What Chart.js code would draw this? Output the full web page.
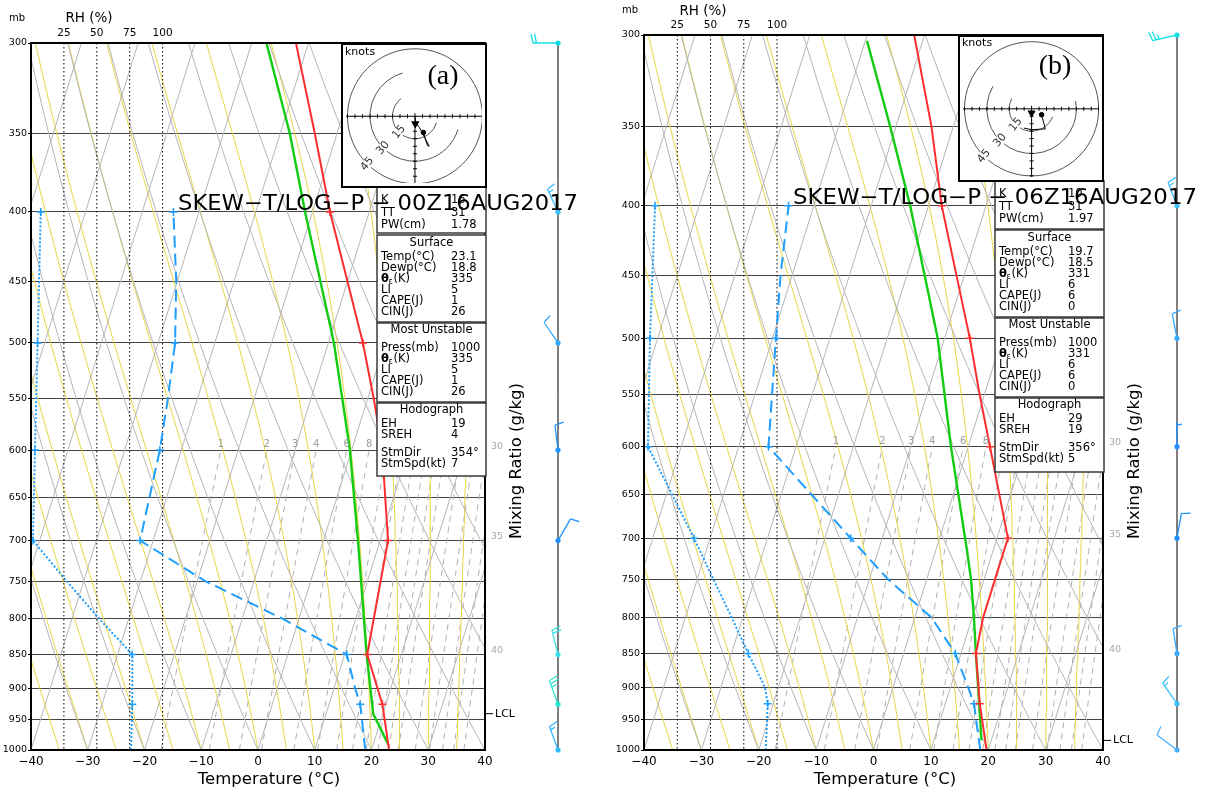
<!DOCTYPE html>
<html>
<head>
<meta charset="utf-8">
<script src="https://cdn.jsdelivr.net/npm/chart.js@4.4.0/dist/chart.umd.min.js"></script>
<style>
html, body { margin: 0; padding: 0; background: #fff; }
#wrap { position: relative; width: 1206px; height: 792px; overflow: hidden; background: #fff; }
canvas { position: absolute; }
</style>
</head>
<body>
<div id="wrap">
  <canvas id="skewA" width="603" height="792" style="left:0;top:0;width:603px;height:792px"></canvas>
  <canvas id="skewB" width="603" height="792" style="left:603px;top:0;width:603px;height:792px"></canvas>
  <canvas id="hodoA" width="146" height="145" style="left:341px;top:43px;width:146px;height:145px"></canvas>
  <canvas id="hodoB" width="146" height="147" style="left:958px;top:35px;width:146px;height:147px"></canvas>
</div>
<script>
// skew of the isotherms, deg C per unit of ln(1000/p)
var SKEW = 32.3;

var PLEVELS = [300, 350, 400, 450, 500, 550, 600, 650, 700, 750, 800, 850, 900, 950, 1000];
var RH_TICKS = [25, 50, 75, 100];
var MARK_P = [925, 850, 700, 600, 500, 400];
var MIX_W = [1, 2, 3, 4, 6, 8, 10, 12, 14, 16, 18, 20, 24, 28, 32, 36, 40];
var MIX_LABELS = [1, 2, 3, 4, 6, 8];
var MOIST_LABELS = ['30', '35', '40'];
var MOIST_LABEL_P = [600, 700, 850];

// ---- (a) 00Z16AUG2017 ----
var TEMP_P_A = [1000, 925, 850, 700, 650, 600, 550, 500, 400, 350, 300];
var TEMP_A = [23.1, 19.4, 14.0, 11.4, 8.5, 5.4, 1.1, -3.9, -16.9, -23.9, -32.2];
var DEWP_P_A = [1000, 925, 900, 850, 800, 750, 700, 600, 550, 500, 450, 400];
var DEWP_A = [18.9, 15.5, 13.7, 10.4, -2.8, -18.6, -32.3, -33.8, -35.2, -37.0, -40.2, -44.5];
var RH_P_A = [1000, 925, 850, 800, 750, 700, 600, 500, 400];
var RH_A = [76, 77, 77, 52, 27, 1.5, 3, 5, 7.4];
var PARCEL_P_A = [990, 940, 850, 700, 600, 500, 400, 350, 300];
var PARCEL_A = [22.6, 18.3, 13.9, 6.1, -0.3, -9.0, -21.3, -28.3, -37.4];
var LCL_A = 940;

// ---- (b) 06Z16AUG2017 ----
var TEMP_P_B = [1000, 925, 850, 800, 750, 700, 600, 550, 500, 400, 350, 300];
var TEMP_B = [19.7, 16.0, 12.6, 11.9, 11.9, 11.9, 3.8, -0.8, -5.6, -17.7, -23.8, -31.8];
var DEWP_P_B = [1000, 925, 900, 850, 800, 750, 700, 600, 550, 500, 450, 400];
var DEWP_B = [18.6, 15.0, 13.1, 9.0, 2.9, -6.8, -15.5, -34.8, -37.0, -39.4, -42.0, -44.4];
var RH_P_B = [1000, 925, 900, 850, 800, 750, 700, 600, 500, 400];
var RH_B = [91.5, 93, 91, 78.4, 65.9, 52.1, 37.6, 3, 4.5, 8.3];
var PARCEL_P_B = [984, 925, 850, 800, 750, 714, 600, 500, 400, 350, 303];
var PARCEL_B = [18.3, 15.9, 12.6, 10.3, 7.7, 5.4, -3.0, -11.2, -23.2, -31.0, -39.7];
var LCL_B = 984;

// winds (deg, kt)
var WIND_P = [300, 400, 500, 600, 700, 850, 925, 1000];
var WDIR_A = [270, 335, 326, 353, 30, 346, 340, 340];
var WSPD_A = [20, 15, 10, 10, 10, 20, 25, 15];
var WDIR_B = [257, 339, 349, 0, 10, 351, 325, 307];
var WSPD_B = [25, 15, 10, 5, 10, 10, 15, 10];

// hodographs (u, v in kt)
var HODO_U_A = [0, 0.5, 3, 9.5, 8.3, 5.6];
var HODO_V_A = [0, -4.5, -7.5, -20, -19.5, -10.8];
var HODO_STORM_A = [0.2, -5];
var HODO_DOT_A = [5.6, -10.8];
var HODO_U_B = [6.7, 9.2, 0, -5];
var HODO_V_B = [-4, -13.5, -14, -13];
var HODO_STORM_B = [0, -2.8];
var HODO_DOT_B = [6.7, -4];
var RINGS = [15, 30, 45];

// index tables
var BOX_HEADS = [null, 'Surface', 'Most Unstable', 'Hodograph'];
var BOX_ROWS = [
  ['K', 'TT', 'PW(cm)'],
  ['Temp(°C)', 'Dewp(°C)', 'θε(K)', 'LI', 'CAPE(J)', 'CIN(J)'],
  ['Press(mb)', 'θε(K)', 'LI', 'CAPE(J)', 'CIN(J)'],
  ['EH', 'SREH', 'StmDir', 'StmSpd(kt)']
];
var INDEX_A = [['16', '31', '1.78'], ['23.1', '18.8', '335', '5', '1', '26'], ['1000', '335', '5', '1', '26'], ['19', '4', '354°', '7']];
var INDEX_B = [['10', '31', '1.97'], ['19.7', '18.5', '331', '6', '6', '0'], ['1000', '331', '6', '6', '0'], ['29', '19', '356°', '5']];

// ---------------- styles / layout ----------------
var FONT = '"DejaVu Sans", sans-serif';
Chart.defaults.font.family = FONT;
var ROW_Y = [[13, 26.5, 38], [8, 22.5, 33.3, 44.3, 55, 65.8, 77], [7.5, 25.3, 36.3, 47, 58, 69], [7.5, 21.5, 32.3, 50.3, 61.5]];
var BARB_COL_A = ['#14dfe6', '#3cc0ff', '#36a8ff', '#1e90ff', '#1e90ff', '#3ee0e6', '#2ee6d4', '#30b8ff'];
var BARB_COL_B = ['#14dfe6', '#3cc0ff', '#36a8ff', '#1e90ff', '#1e90ff', '#3aa8ff', '#3cc0ff', '#4cb0ff'];

var PANEL_A = {
  id: 'skewA', left: 31, top: 43, padRight: 118, barbX: 558,
  title: 'SKEW\u2212T/LOG\u2212P \u2212 00Z16AUG2017', titleX: 178, titleBase: 210, titleW: 400,
  boxL: 377, boxR: 486, boxes: [[187, 233], [235, 322], [323, 402], [403, 476]], labX: 381, valX: 451,
  tempX: 269, mixX: 517, mbX: 17, mbY: 18, rhX: 89, rhY: 18
};
var PANEL_B = {
  id: 'skewB', left: 41, top: 35, padRight: 103, barbX: 574,
  title: 'SKEW\u2212T/LOG\u2212P \u2212 06Z16AUG2017', titleX: 190, titleBase: 204, titleW: 404,
  boxL: 392, boxR: 501, boxes: [[181, 229], [230, 317], [318, 397], [398, 472]], labX: 396, valX: 465,
  tempX: 282, mixX: 532, mbX: 27, mbY: 10, rhX: 100, rhY: 11
};

// ---------------- thermodynamics for the diagram ----------------
function skewX(t, p) { return t + SKEW * Math.log(1000 / p); }
function toPts(ps, ts) { return ps.map(function (p, i) { return { x: skewX(ts[i], p), y: p }; }); }
function tdFromMix(w, p) { var e = w * p / (622 + w); var l = Math.log(e / 6.112); return 243.5 * l / (17.67 - l); }
function lapse(T, p) {
  var es = 6.112 * Math.exp(17.67 * (T - 273.15) / (T - 29.65));
  var r = 0.622 * es / (p - es);
  return (287.04 * T + 2.501e6 * r) / (1005.7 + 2.501e6 * 2.501e6 * r * 0.622 / (287.04 * T * T)) / p;
}
function moistAdiabat(tw) {
  var T = tw + 273.15, p = 1000, pts = [{ x: skewX(tw, 1000), y: 1000 }];
  while (p > 300) {
    var dp = -5;
    var k1 = lapse(T, p), k2 = lapse(T + k1 * dp / 2, p + dp / 2), k3 = lapse(T + k2 * dp / 2, p + dp / 2), k4 = lapse(T + k3 * dp, p + dp);
    T += dp * (k1 + 2 * k2 + 2 * k3 + k4) / 6; p += dp;
    if (p % 20 === 0 || p === 300) pts.push({ x: skewX(T - 273.15, p), y: p });
  }
  return pts;
}
function bg(data, color, dash) {
  return { data: data, showLine: true, borderColor: color, borderWidth: 1, borderDash: dash || [], pointRadius: 0, order: 10 };
}
function background() {
  var sets = [], t, p, pts;
  for (t = -80; t <= 40; t += 10) sets.push(bg([{ x: skewX(t, 1000), y: 1000 }, { x: skewX(t, 300), y: 300 }], '#b6b6b6'));
  for (t = -40; t <= 120; t += 10) {
    pts = [];
    for (p = 1000; p >= 300; p -= 25) pts.push({ x: skewX((t + 273.15) * Math.pow(p / 1000, 0.2857) - 273.15, p), y: p });
    sets.push(bg(pts, '#b6b6b6'));
  }
  for (t = -40; t <= 40; t += 5) sets.push(bg(moistAdiabat(t), '#e6d647'));
  MIX_W.forEach(function (w) {
    var q = [];
    for (var pp = 1000; pp >= 600; pp -= 50) q.push({ x: skewX(tdFromMix(w, pp), pp), y: pp });
    sets.push(bg(q, '#b0b0b0', [6, 5]));
  });
  RH_TICKS.forEach(function (r) {
    sets.push({ data: [{ x: r, y: 300 }, { x: r, y: 1000 }], xAxisID: 'x2', showLine: true, borderColor: '#000', borderWidth: 1, borderDash: [1.5, 2.5], pointRadius: 0, order: 9 });
  });
  return sets;
}
function markRadius(ctx) { return ctx.raw && MARK_P.indexOf(ctx.raw.y) >= 0 ? 4 : 0; }

// ---------------- drawing helpers ----------------
function drawBarb(ctx, x0, y0, dir, spd, color) {
  var r = dir * Math.PI / 180, dx = Math.sin(r), dy = -Math.cos(r), px = -dy, py = dx, L = 25;
  ctx.strokeStyle = color; ctx.fillStyle = color; ctx.lineWidth = 1.3;
  ctx.beginPath();
  ctx.moveTo(x0, y0); ctx.lineTo(x0 + dx * L, y0 + dy * L);
  var full = Math.floor(spd / 10), half = (spd % 10) >= 5, pos = L, i;
  for (i = 0; i < full; i++) {
    var bx = x0 + dx * pos, by = y0 + dy * pos;
    ctx.moveTo(bx, by); ctx.lineTo(bx + px * 9 + dx * 2, by + py * 9 + dy * 2);
    pos -= 3.5;
  }
  if (half) {
    if (full === 0) pos -= 3.5;
    var hx = x0 + dx * pos, hy = y0 + dy * pos;
    ctx.moveTo(hx, hy); ctx.lineTo(hx + px * 5 + dx, hy + py * 5 + dy);
  }
  ctx.stroke();
  ctx.beginPath(); ctx.arc(x0, y0, 2.6, 0, Math.PI * 2); ctx.fill();
}
function drawThetaE(ctx, x, y) {
  ctx.font = 'bold 11.5px ' + FONT;
  ctx.fillText('θ', x, y);
  var w = ctx.measureText('θ').width;
  ctx.font = '8px ' + FONT;
  ctx.fillText('ε', x + w - 0.5, y + 3);
  ctx.font = '11.5px ' + FONT;
  ctx.fillText('(K)', x + w + 4.5, y);
}

function panelPlugin(P, idx, lclP) {
  return {
    id: 'deco' + P.id,
    afterDatasetsDraw: function (chart) {
      var ctx = chart.ctx, a = chart.chartArea, x = chart.scales.x, y = chart.scales.y;
      ctx.save();
      // frame
      ctx.strokeStyle = '#000'; ctx.lineWidth = 2;
      ctx.strokeRect(a.left, a.top, a.right - a.left, a.bottom - a.top);
      // mixing ratio labels
      ctx.fillStyle = '#9c9c9c'; ctx.font = '10px ' + FONT; ctx.textAlign = 'center'; ctx.textBaseline = 'bottom';
      MIX_LABELS.forEach(function (w) {
        ctx.fillText(String(w), x.getPixelForValue(skewX(tdFromMix(w, 600), 600)), y.getPixelForValue(600) - 0.5);
      });
      // moist adiabat labels
      ctx.fillStyle = '#a8a8a8'; ctx.font = '9.5px ' + FONT; ctx.textBaseline = 'middle';
      MOIST_LABELS.forEach(function (s, i) { ctx.fillText(s, a.right + 12, y.getPixelForValue(MOIST_LABEL_P[i]) - 4); });
      // LCL
      var ly = y.getPixelForValue(lclP);
      ctx.strokeStyle = '#000'; ctx.lineWidth = 1;
      ctx.beginPath(); ctx.moveTo(a.right + 1, ly); ctx.lineTo(a.right + 8, ly); ctx.stroke();
      ctx.fillStyle = '#000'; ctx.font = '11px ' + FONT; ctx.textAlign = 'left';
      ctx.fillText('LCL', a.right + 10, ly);
      // tables
      P.boxes.forEach(function (b, k) {
        ctx.fillStyle = '#fff';
        ctx.fillRect(P.boxL, b[0], P.boxR - P.boxL, b[1] - b[0]);
        ctx.strokeStyle = '#3a3a3a'; ctx.lineWidth = 1.5;
        ctx.strokeRect(P.boxL, b[0], P.boxR - P.boxL, b[1] - b[0]);
        ctx.fillStyle = '#000'; ctx.textBaseline = 'middle';
        var off = 0;
        if (BOX_HEADS[k]) {
          ctx.font = '11.5px ' + FONT; ctx.textAlign = 'center';
          ctx.fillText(BOX_HEADS[k], (P.boxL + P.boxR) / 2, b[0] + ROW_Y[k][0]);
          off = 1;
        }
        ctx.textAlign = 'left';
        BOX_ROWS[k].forEach(function (lab, j) {
          var yy = b[0] + ROW_Y[k][j + off];
          ctx.font = '11.5px ' + FONT;
          if (lab === 'θε(K)') drawThetaE(ctx, P.labX, yy); else ctx.fillText(lab, P.labX, yy);
          ctx.font = '11.5px ' + FONT;
          ctx.fillText(idx[k][j], P.valX, yy);
        });
      });
      ctx.restore();
    },
    afterDraw: function (chart) {
      var ctx = chart.ctx, a = chart.chartArea, y = chart.scales.y;
      ctx.save();
      // wind barbs
      ctx.strokeStyle = '#000'; ctx.lineWidth = 1;
      ctx.beginPath(); ctx.moveTo(P.barbX, a.top); ctx.lineTo(P.barbX, a.bottom); ctx.stroke();
      var dirs = P.id === 'skewA' ? WDIR_A : WDIR_B, spds = P.id === 'skewA' ? WSPD_A : WSPD_B, cols = P.id === 'skewA' ? BARB_COL_A : BARB_COL_B;
      WIND_P.forEach(function (p, i) { drawBarb(ctx, P.barbX, y.getPixelForValue(p), dirs[i], spds[i], cols[i]); });
      // axis titles
      ctx.fillStyle = '#000'; ctx.textAlign = 'center'; ctx.textBaseline = 'middle';
      ctx.font = '16.5px ' + FONT;
      ctx.fillText('Temperature (°C)', P.tempX, 780);
      ctx.save(); ctx.translate(P.mixX, 461); ctx.rotate(-Math.PI / 2);
      ctx.fillText('Mixing Ratio (g/kg)', 0, 0); ctx.restore();
      ctx.font = '10px ' + FONT; ctx.fillText('mb', P.mbX, P.mbY);
      ctx.font = '13.5px ' + FONT; ctx.fillText('RH (%)', P.rhX, P.rhY);
      // title
      ctx.font = '21px ' + FONT; ctx.textAlign = 'left'; ctx.textBaseline = 'alphabetic';
      var w = ctx.measureText(P.title).width;
      ctx.translate(P.titleX, P.titleBase); ctx.scale(P.titleW / w, 1);
      ctx.fillText(P.title, 0, 0);
      ctx.restore();
    }
  };
}

function skewChart(P, tp, t, dp, td, rp, rh, pp, pt, idx, lclP) {
  var sets = [
    { data: toPts(tp, t), showLine: true, borderColor: '#ff2e2e', borderWidth: 2, pointStyle: 'cross', pointRadius: markRadius, pointBorderColor: '#ff2e2e', pointBorderWidth: 1.5, order: 1 },
    { data: toPts(pp, pt), showLine: true, borderColor: '#12cc12', borderWidth: 2.4, pointRadius: 0, order: 2 },
    { data: toPts(dp, td), showLine: true, borderColor: '#1e9eff', borderWidth: 2, borderDash: [12, 6], pointStyle: 'cross', pointRadius: markRadius, pointBorderColor: '#1e9eff', pointBorderWidth: 1.5, order: 3 },
    { data: rp.map(function (p, i) { return { x: rh[i], y: p }; }), xAxisID: 'x2', showLine: true, borderColor: '#1e9eff', borderWidth: 2, borderDash: [2, 2], pointStyle: 'cross', pointRadius: markRadius, pointBorderColor: '#1e9eff', pointBorderWidth: 1.5, order: 4 }
  ].concat(background());

  return new Chart(document.getElementById(P.id), {
    type: 'scatter',
    data: { datasets: sets },
    options: {
      responsive: false, animation: false, devicePixelRatio: 1,
      layout: { padding: { left: 0, right: P.padRight, top: 0, bottom: 0 } },
      plugins: { legend: { display: false }, tooltip: { enabled: false } },
      elements: { point: { radius: 0 }, line: { tension: 0 } },
      scales: {
        x: {
          type: 'linear', position: 'bottom', min: -40, max: 40,
          afterFit: function (s) { s.height = 42; },
          ticks: { stepSize: 10, color: '#000', padding: 5, maxRotation: 0, font: { size: 12 },
            callback: function (v) { return v < 0 ? '\u2212' + Math.abs(v) : String(v); } },
          grid: { display: false, drawTicks: false }, border: { display: false }
        },
        x2: {
          type: 'linear', position: 'top', min: 0, max: 345,
          afterFit: function (s) { s.height = P.top; },
          afterBuildTicks: function (s) { s.ticks = RH_TICKS.map(function (v) { return { value: v }; }); },
          ticks: { color: '#000', padding: 3, maxRotation: 0, autoSkip: false, font: { size: 10.5 } },
          grid: { display: false, drawTicks: false }, border: { display: false }
        },
        y: {
          type: 'logarithmic', reverse: true, min: 300, max: 1000,
          afterFit: function (s) { s.width = P.left; },
          afterBuildTicks: function (s) { s.ticks = PLEVELS.map(function (v) { return { value: v }; }); },
          ticks: { color: '#000', padding: 1, autoSkip: false, font: { size: 9.5 }, callback: function (v) { return String(v); } },
          grid: { color: '#444', lineWidth: 1, tickLength: 3, tickColor: '#000' }, border: { display: false }
        }
      }
    },
    plugins: [panelPlugin(P, idx, lclP)]
  });
}

function hodoPlugin(H) {
  return {
    id: 'hodo' + H.id,
    beforeDraw: function (chart) {
      var ctx = chart.ctx;
      ctx.save(); ctx.fillStyle = '#fff'; ctx.fillRect(0, 0, chart.width, chart.height); ctx.restore();
    },
    beforeDatasetsDraw: function (chart) {
      var ctx = chart.ctx, x = chart.scales.x, y = chart.scales.y, a = chart.chartArea;
      var cx = x.getPixelForValue(0), cy = y.getPixelForValue(0), k;
      ctx.save();
      ctx.beginPath(); ctx.rect(a.left, a.top, a.right - a.left, a.bottom - a.top); ctx.clip();
      ctx.strokeStyle = '#555'; ctx.lineWidth = 1;
      RINGS.forEach(function (r, i) {
        var rp = x.getPixelForValue(r) - cx;
        ctx.beginPath();
        if (H.arcs[i]) ctx.arc(cx, cy, rp, -H.arcs[i][0] * Math.PI / 180, -H.arcs[i][1] * Math.PI / 180, true);
        else ctx.arc(cx, cy, rp, 0, Math.PI * 2);
        ctx.stroke();
      });
      // crosshair
      ctx.strokeStyle = '#000';
      ctx.beginPath();
      ctx.moveTo(a.left, cy); ctx.lineTo(a.right, cy);
      ctx.moveTo(cx, cy - 3); ctx.lineTo(cx, a.bottom);
      for (k = -45; k <= 45; k += 5) {
        if (k === 0) continue;
        var tx = x.getPixelForValue(k);
        ctx.moveTo(tx, cy - 2); ctx.lineTo(tx, cy + 2);
      }
      for (k = -5; k >= -45; k -= 5) {
        var ty = y.getPixelForValue(k);
        ctx.moveTo(cx - 2, ty); ctx.lineTo(cx + 2, ty);
      }
      ctx.stroke();
      // ring labels
      ctx.font = '11px ' + FONT; ctx.textAlign = 'center'; ctx.textBaseline = 'middle';
      RINGS.forEach(function (r) {
        var lx = x.getPixelForValue(-r * 0.7071), ly = y.getPixelForValue(-r * 0.7071);
        ctx.save(); ctx.translate(lx, ly); ctx.rotate(-50 * Math.PI / 180);
        ctx.fillStyle = '#fff'; ctx.fillRect(-8, -5, 16, 10);
        ctx.fillStyle = '#333'; ctx.fillText(String(r), 0, 0);
        ctx.restore();
      });
      ctx.restore();
    },
    afterDraw: function (chart) {
      var ctx = chart.ctx;
      ctx.save();
      ctx.fillStyle = '#000'; ctx.textBaseline = 'middle'; ctx.textAlign = 'left';
      ctx.font = '11px ' + FONT; ctx.fillText('knots', 4, H.knotsY);
      ctx.font = '28px "Liberation Serif", serif'; ctx.textAlign = 'center';
      ctx.fillText(H.label, H.labelX, H.labelY);
      ctx.strokeStyle = '#000'; ctx.lineWidth = 2;
      ctx.strokeRect(1, 1, chart.width - 2, chart.height - 2);
      ctx.restore();
    }
  };
}

function hodoChart(H, u, v, storm, dot) {
  return new Chart(document.getElementById(H.id), {
    type: 'scatter',
    data: { datasets: [
      { data: u.map(function (uu, i) { return { x: uu, y: v[i] }; }), showLine: true, borderColor: '#000', borderWidth: 1, pointRadius: 0 },
      { data: [{ x: storm[0], y: storm[1] }], pointStyle: 'triangle', pointRotation: 180, pointRadius: 4, backgroundColor: '#000', borderColor: '#000' },
      { data: [{ x: dot[0], y: dot[1] }], pointStyle: 'circle', pointRadius: 2.3, backgroundColor: '#000', borderColor: '#000' }
    ] },
    options: {
      responsive: false, animation: false, devicePixelRatio: 1,
      layout: { padding: 0 },
      plugins: { legend: { display: false }, tooltip: { enabled: false } },
      scales: {
        x: { display: false, min: H.xmin, max: H.xmax },
        y: { display: false, min: H.ymin, max: H.ymax }
      }
    },
    plugins: [hodoPlugin(H)]
  });
}

skewChart(PANEL_A, TEMP_P_A, TEMP_A, DEWP_P_A, DEWP_A, RH_P_A, RH_A, PARCEL_P_A, PARCEL_A, INDEX_A, LCL_A);
skewChart(PANEL_B, TEMP_P_B, TEMP_B, DEWP_P_B, DEWP_B, RH_P_B, RH_B, PARCEL_P_B, PARCEL_B, INDEX_B, LCL_B);

hodoChart({ id: 'hodoA', xmin: -46, xmax: 44.7, ymin: -44.5, ymax: 45.5, arcs: [[128, -17], [106, -17], null],
  knotsY: 9, label: '(a)', labelX: 102, labelY: 34 }, HODO_U_A, HODO_V_A, HODO_STORM_A, HODO_DOT_A);
hodoChart({ id: 'hodoB', xmin: -46, xmax: 45.2, ymin: -45.8, ymax: 46.2, arcs: [[153, -21], [150, 10], null],
  knotsY: 8, label: '(b)', labelX: 97, labelY: 32 }, HODO_U_B, HODO_V_B, HODO_STORM_B, HODO_DOT_B);
</script>
</body>
</html>
